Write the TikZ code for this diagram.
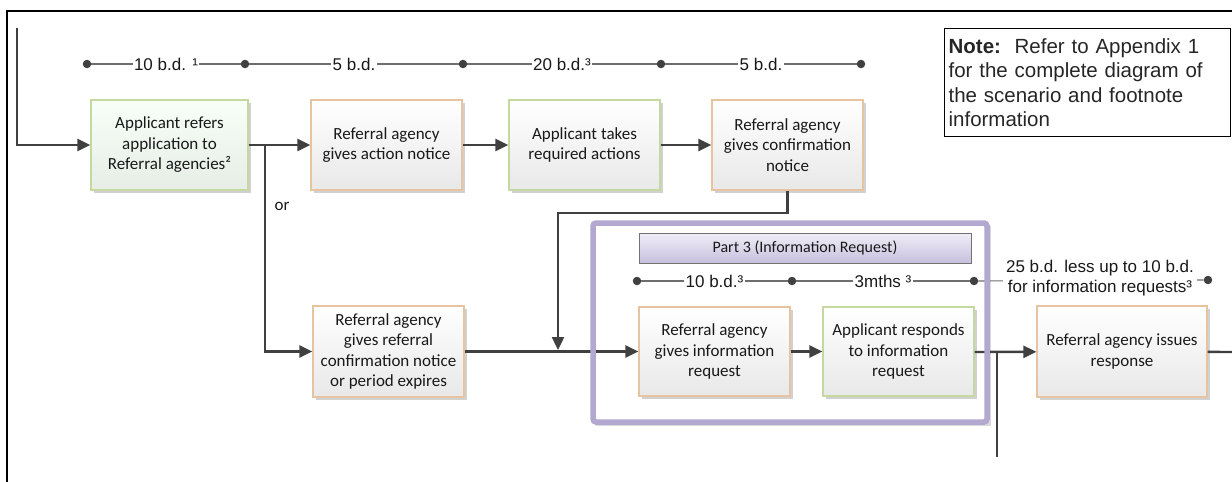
\documentclass[tikz,border=0pt]{standalone}
\usepackage{fontspec}
\setmainfont{Carlito}
\newfontfamily\arial{Liberation Sans}
\usetikzlibrary{arrows.meta,shadows}
\definecolor{gborder}{RGB}{196,216,160}
\definecolor{oborder}{RGB}{230,196,160}
\definecolor{lav}{RGB}{178,168,208}
\definecolor{hdrtop}{RGB}{240,238,247}
\definecolor{hdrbot}{RGB}{198,192,222}
\definecolor{darkline}{RGB}{64,64,64}
\definecolor{tlgray}{RGB}{110,110,110}
\tikzset{
  boxbase/.style={draw, line width=1.2, minimum width=151, minimum height=90, align=center,
    inner sep=2, font=\fontsize{17}{20.5}\selectfont, text=black!90,
    shading=axis, top color=white, bottom color=black!9,
    drop shadow={shadow xshift=2.5pt, shadow yshift=-2.5pt, opacity=0.18, fill=black}},
  gbox/.style={boxbase, draw=gborder},
  obox/.style={boxbase, draw=oborder},
  arr/.style={draw=darkline, line width=2.4, -{Triangle[length=13pt,width=12pt]}},
  plain/.style={draw=darkline, line width=2.4},
  tl/.style={draw=tlgray, line width=1.1},
  tdot/.style={circle, fill=darkline, inner sep=0, minimum size=8.5},
  tlab/.style={fill=white, inner sep=1.5, font=\arial\fontsize{17}{20}\selectfont, text=black!90},
}
\begin{document}
\begin{tikzpicture}[x=1pt,y=-1pt]
\useasboundingbox (0,0) rectangle (1232,482);
% outer frame (left and top edges)
\draw[line width=2.6, black] (7,482) -- (7,11) -- (1232,11);
% Part 3 frame background
\fill[black, opacity=0.15] (596,226) rectangle (991,426);
\fill[white] (593,223) rectangle (987,422);
% timeline 1
\node[tdot] (t1) at (87,64) {};
\node[tdot] (t2) at (245,64) {};
\node[tdot] (t3) at (463,64) {};
\node[tdot] (t4) at (661,64) {};
\node[tdot] (t5) at (861,64) {};
\draw[tl] (t1) -- node[tlab] (l1) {10 b.d. ¹} (t2);
\draw[tl] (t2) -- node[tlab] (l2) {5 b.d.} (t3);
\draw[tl] (t3) -- node[tlab] (l3) {20 b.d.³} (t4);
\draw[tl] (t4) -- node[tlab] (l4) {5 b.d.} (t5);
% boxes
\node[gbox, minimum width=157, top color=green!3!white, bottom color=green!30!black!10] (b1) at (169.5,145) {Applicant refers\\application to\\Referral agencies²};
\node[obox] (b2) at (386.5,145) {Referral agency\\gives action notice};
\node[gbox] (b3) at (584.5,145) {Applicant takes\\required actions};
\node[obox] (b4) at (787.5,145) {Referral agency\\gives confirmation\\notice};
\node[obox, minimum height=91] (b5) at (388.5,351.5) {Referral agency\\gives referral\\confirmation notice\\or period expires};
\node[obox, minimum height=89] (b6) at (714.5,351.5) {Referral agency\\gives information\\request};
\node[gbox, minimum height=89] (b7) at (898.5,351.5) {Applicant responds\\to information\\request};
\node[obox, minimum width=170, minimum height=91] (b8) at (1122,351.5) {Referral agency issues\\response};
% Part 3 header
\node[draw=black!55, line width=1, minimum width=332, minimum height=30, shading=axis,
  top color=hdrtop, bottom color=hdrbot, font=\fontsize{16}{19}\selectfont, text=black!90] (p3) at (805,248) {Part 3 (Information Request)};
% timeline 2
\node[tdot] (s1) at (637,281) {};
\node[tdot] (s2) at (792,281) {};
\node[tdot] (s3) at (974,281) {};
\node[tdot] (s4) at (1208,280) {};
\draw[tl] (s1) -- node[tlab] (m1) {10 b.d.³} (s2);
\draw[tl] (s2) -- node[tlab] (m2) {3mths ³} (s3);
\draw[tl] (s3) -- (s4);
\node[tlab, align=center, inner sep=3] (m3) at (1100,278) {25 b.d. less up to 10 b.d.\\for information requests³};
% connectors
\coordinate (in0) at (17,28);
\coordinate (br) at (265,145);
\coordinate (j1) at (558,213);
\coordinate (j2) at (558,350);
\coordinate (v1) at (997,352);
\coordinate (v2) at (997,457);
\coordinate (out) at (1232,352);
\draw[arr] (in0) |- (b1);
\draw[arr] (b1) -- (b2);
\draw[arr] (b2) -- (b3);
\draw[arr] (b3) -- (b4);
\draw[arr] (br) |- (b5);
\draw[arr] (b4.south) |- (j1) -- (j2);
\draw[arr] (b5) -- (b6);
\draw[arr] (b6) -- (b7);
\draw[arr] (b7.east |- v1) -- (b8);
\draw[plain] (v1) -- (v2);
\draw[plain] (b8) -- (out);
\node[font=\fontsize{17}{20}\selectfont, text=black!90] (or) at (282,206) {or};
% Part 3 frame outline (over connectors)
\draw[lav, line width=5.5, rounded corners=3] (593,223) rectangle (987,422);
% note
\node[draw, line width=1.2, anchor=north west, minimum width=286, minimum height=108,
  text width=278, align=left, inner sep=4, font=\arial\fontsize{20.5}{24.5}\selectfont, text=black!85] (note) at (944,28)
  {\textbf{Note:}\ \ Refer to Appendix 1\\for the complete diagram of\\the scenario and footnote\\information};
\end{tikzpicture}
\end{document}
